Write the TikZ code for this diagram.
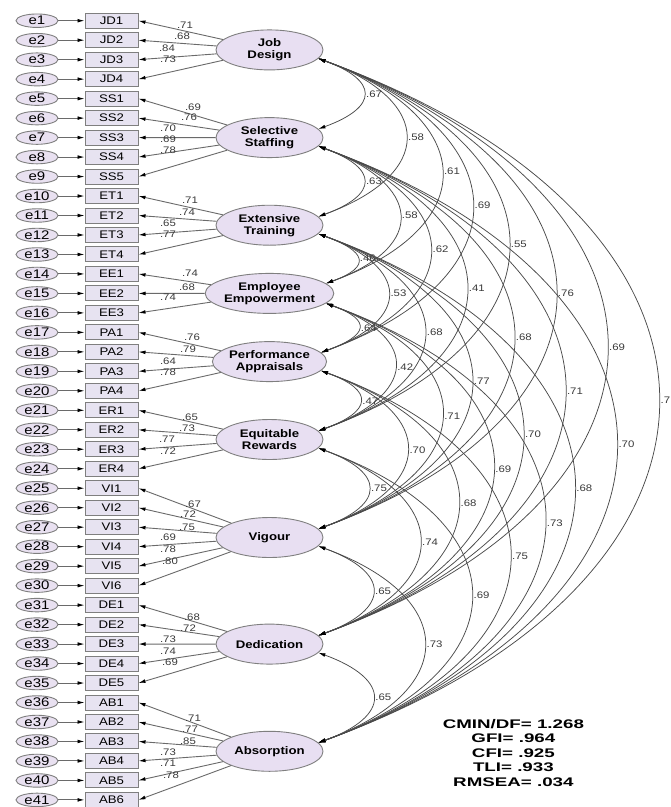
\documentclass[tikz,border=0pt]{standalone}
\usepackage{fontspec}
\setmainfont[FakeStretch=1.2]{Liberation Sans}
\newfontfamily\statfont[FakeStretch=1.5]{Liberation Sans}
\usetikzlibrary{shapes.geometric,arrows.meta,calc}
\definecolor{errfill}{HTML}{E9E1F1}
\definecolor{boxfill}{HTML}{E7E3F1}
\definecolor{latfill}{HTML}{E8DFF2}
\definecolor{boxline}{HTML}{7F7F7F}
\definecolor{linegray}{HTML}{6A6A6A}
\definecolor{covgray}{HTML}{4A4A4A}
\definecolor{labgray}{HTML}{3A3A3A}
\newcommand\covar[3]{%
  \draw[cov] let \p1=(#1.-10), \p2=(#2.10),
    \n1={(11.5+0.48*((\y1)-(\y2)))/0.705} in
    (\p1) .. controls +(-20:\n1) and +(20:\n1) .. (\p2)
    node[lab,pos=0.5,anchor=west,xshift=1.5pt]{#3};}
\begin{document}
\begin{tikzpicture}[x=1pt,y=1pt,
  errnode/.style={ellipse,draw=boxline,fill=errfill,line width=0.9pt,minimum width=42pt,minimum height=13.5pt,inner sep=0pt,font=\fontsize{12.5}{13}\selectfont},
  obsbox/.style={rectangle,draw=boxline,fill=boxfill,line width=1pt,minimum width=53pt,minimum height=15pt,inner sep=0pt,font=\fontsize{11}{12}\selectfont},
  latent/.style={ellipse,draw=boxline,fill=latfill,line width=0.9pt,minimum width=107pt,minimum height=40pt,inner sep=0pt,align=center,font=\bfseries\fontsize{11}{12}\selectfont},
  load/.style={draw=linegray,line width=0.9pt,-{Latex[length=7pt,width=3.8pt,color=black]}},
  cov/.style={draw=covgray,line width=0.75pt,{Latex[length=7pt,width=3.8pt,color=black]}-{Latex[length=7pt,width=3.8pt,color=black]}},
  lab/.style={font=\fontsize{9.5}{10}\selectfont,text=labgray,inner sep=0.5pt},
  fitstyle/.style={font=\statfont\bfseries\fontsize{12.5}{14.4}\selectfont,align=center,text=black}
]
\fill[white] (0,0) rectangle (671,-807);
\useasboundingbox (0,0) rectangle (671,-807);

% observed indicators and error terms
\foreach \t [count=\i] in {JD1,JD2,JD3,JD4,SS1,SS2,SS3,SS4,SS5,ET1,ET2,ET3,ET4,EE1,EE2,EE3,PA1,PA2,PA3,PA4,ER1,ER2,ER3,ER4,VI1,VI2,VI3,VI4,VI5,VI6,DE1,DE2,DE3,DE4,DE5,AB1,AB2,AB3,AB4,AB5,AB6}{
  \pgfmathsetmacro\yy{-(20.7+(\i-1)*19.48)}
  \node[errnode] (e\i) at (37,\yy) {e\i};
  \node[obsbox] (x\i) at (111.5,\yy) {\t};
  \draw[load] (e\i) -- (x\i);
}

% latent factors
\node[latent] (JD) at (269.5,-49.9) {Job\\Design};
\node[latent] (SS) at (269.5,-137.6) {Selective\\Staffing};
\node[latent] (ET) at (269.5,-225.2) {Extensive\\Training};
\node[latent] (EE) at (269.5,-293.4) {Employee\\Empowerment};
\node[latent] (PA) at (269.5,-361.6) {Performance\\Appraisals};
\node[latent] (ER) at (269.5,-439.5) {Equitable\\Rewards};
\node[latent] (VI) at (269.5,-537.5) {Vigour};
\node[latent] (DE) at (269.5,-644.1) {Dedication};
\node[latent] (AB) at (269.5,-751.3) {Absorption};

% loadings
\foreach \i in {1,...,4} \draw[load] (JD) -- (x\i.east);
\foreach \i in {5,...,9} \draw[load] (SS) -- (x\i.east);
\foreach \i in {10,...,13} \draw[load] (ET) -- (x\i.east);
\foreach \i in {14,...,16} \draw[load] (EE) -- (x\i.east);
\foreach \i in {17,...,20} \draw[load] (PA) -- (x\i.east);
\foreach \i in {21,...,24} \draw[load] (ER) -- (x\i.east);
\foreach \i in {25,...,30} \draw[load] (VI) -- (x\i.east);
\foreach \i in {31,...,35} \draw[load] (DE) -- (x\i.east);
\foreach \i in {36,...,41} \draw[load] (AB) -- (x\i.east);

% loading labels
\foreach \px/\py/\t [count=\k] in {
 185/25/.71,182/36/.68,167/48/.84,168/59/.73,
 193/107/.69,189/117/.76,168/128/.70,168/139/.69,168/150/.78,
 190/200/.71,187/212/.74,168/223/.65,168/234/.77,
 190/273/.74,187/287/.68,168/297/.74,
 192/337/.76,188/349/.79,168/361/.64,168/372/.78,
 190/417/.65,187/428/.73,167/439/.77,168/451/.72,
 193/504/.67,188/514/.72,187/527/.75,168/537/.69,168/549/.78,170/561/.80,
 192/617/.68,188/628/.72,168/639/.73,168/651/.74,170/662/.69,
 193/718/.71,190/729/.77,188/741/.85,168/752/.73,168/763/.71,171/775/.78}
 \node[lab] (ld\k) at (\px,-\py) {\t};

% covariances
\covar{JD}{SS}{.67}\covar{JD}{ET}{.58}\covar{JD}{EE}{.61}\covar{JD}{PA}{.69}
\covar{JD}{ER}{.55}\covar{JD}{VI}{.76}\covar{JD}{DE}{.69}\covar{JD}{AB}{.7}
\covar{SS}{ET}{.63}\covar{SS}{EE}{.58}\covar{SS}{PA}{.62}\covar{SS}{ER}{.41}
\covar{SS}{VI}{.68}\covar{SS}{DE}{.71}\covar{SS}{AB}{.70}
\covar{ET}{EE}{.46}\covar{ET}{PA}{.53}\covar{ET}{ER}{.68}\covar{ET}{VI}{.77}
\covar{ET}{DE}{.70}\covar{ET}{AB}{.68}
\covar{EE}{PA}{.64}\covar{EE}{ER}{.42}\covar{EE}{VI}{.71}\covar{EE}{DE}{.69}\covar{EE}{AB}{.73}
\covar{PA}{ER}{.47}\covar{PA}{VI}{.70}\covar{PA}{DE}{.68}\covar{PA}{AB}{.75}
\covar{ER}{VI}{.75}\covar{ER}{DE}{.74}\covar{ER}{AB}{.69}
\covar{VI}{DE}{.65}\covar{VI}{AB}{.73}
\covar{DE}{AB}{.65}

% fit indices
\node[fitstyle] (fit) at (513.4,-752.9) {CMIN/DF= 1.268\\GFI= .964\\CFI= .925\\TLI= .933\\RMSEA= .034};
\end{tikzpicture}
\end{document}
